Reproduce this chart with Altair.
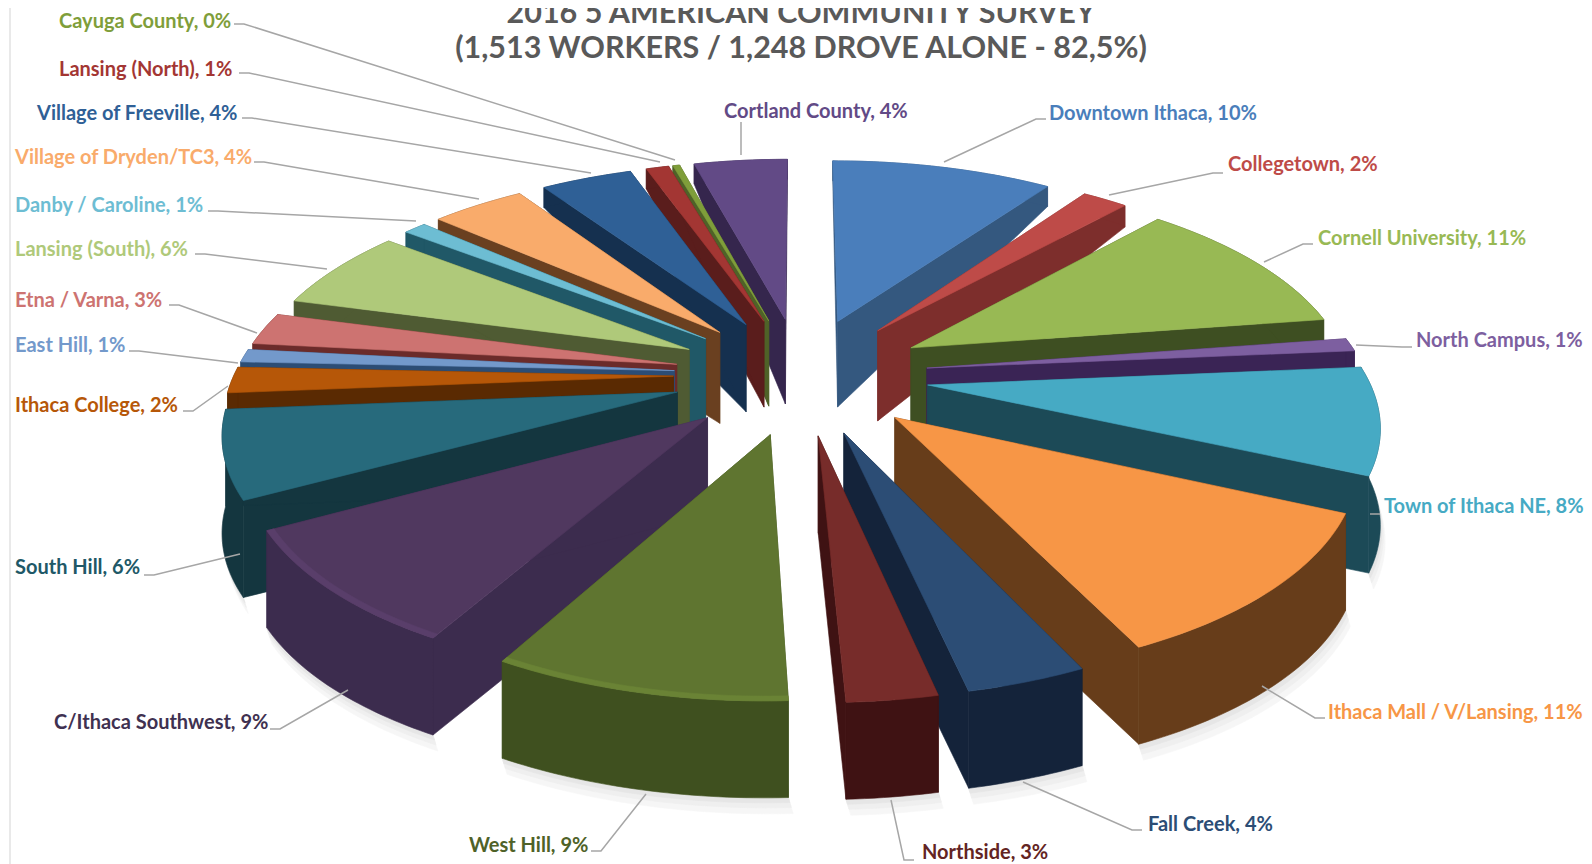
import math
import altair as alt
import pandas as pd

names = ["Downtown Ithaca","Collegetown","Cornell University","North Campus","Town of Ithaca NE",
         "Ithaca Mall / V/Lansing","Fall Creek","Northside","West Hill","C/Ithaca Southwest","South Hill",
         "Ithaca College","East Hill","Etna / Varna","Lansing (South)","Danby / Caroline",
         "Village of Dryden/TC3","Village of Freeville","Lansing (North)","Cayuga County","Cortland County"]
shown = [10,2,11,1,8,11,4,3,9,9,6,2,1,3,6,1,4,4,1,0,4]
values = [9.7,2.0,10.9,1.0,8.2,11.2,3.6,2.7,8.8,8.9,6.7,2.0,1.0,2.5,6.3,1.0,4.1,4.0,1.0,0.3,4.1]
colors = ["#4a7ebb","#be4b48","#98b954","#7d5fa0","#46aac4","#f79646","#2c4d75","#772c2a","#5f7530","#50385f",
          "#276a7c","#b65708","#7399cb","#cd7371","#afc97a","#6dbdd3","#f9ab6b","#2f6096","#a33633","#7f9e3a","#624a86"]
side_colors = ["#34587f","#7d2e2c","#3e4f22","#3a2455","#1c4a57","#673d1a","#14233a","#3f1213","#3f501f","#3c2c4e",
               "#14363f","#5a2a02","#2c4d75","#6b2b2a","#4f5b33","#205867","#6a4020","#15304f","#5a1d1c","#4f6228","#35264d"]
text_colors = ["#4a7ebb","#be4b48","#98b954","#7d5fa0","#46aac4","#f79646","#2c4d75","#632423","#4f6228","#3f3151",
               "#205867","#b65708","#7399cb","#cd7371","#afc97a","#6dbdd3","#f9ab6b","#2f6096","#a33633","#7f9e3a","#624a86"]
# label layout: left x, centre y, leader start, leader end (full-size pixels)
label_x = [1049,1228,1318,1416,1384,1328,1148,922,469,54,15,15,15,15,15,15,15,37,59,59,724]
label_y = [114,165,239,341,507,713,825,853,846,723,568,406,346,301,250,206,158,114,70,22,112]
lead_a = [(1046,119),(1223,173),(1313,244),(1412,347),(1380,514),(1325,718),(1142,830),(914,860),(591,851),(270,729),
          (144,575),(183,411),(129,351),(169,305),(195,254),(208,211),(254,162),(242,118),(239,73),(234,24)]
lead_b = [(944,162),(1109,195),(1264,262),(1356,345),(1371,514),(1262,686),(1023,782),(891,800),(646,794),(348,690),
          (240,554),(228,386),(238,363),(257,333),(327,269),(416,221),(479,199),(591,173),(660,162),(675,160)]
cortland_lead = [(741,122),(741,155)]
title_lines = ["2016 5 AMERICAN COMMUNITY SURVEY","(1,513 WORKERS / 1,248 DROVE ALONE - 82,5%)"]

CX, CY, K, A, B, EX = 801, 375, 439.5, 202, 0.16, 0.29

def lighten(hex_color, f):
    r,g,b = [int(hex_color[i:i+2],16) for i in (1,3,5)]
    return "#%02x%02x%02x" % (min(255,int(r*f)),min(255,int(g*f)),min(255,int(b*f)))

def proj(x, y):
    d = 1 + B*y
    return CX + K*x/d, CY - A*y/d

def wall(y):
    return max(20, min(97, 88 - 74*(y-0.25)/0.8))

def poly(points, fill):
    ring = [[float(p[0]), float(p[1])] for p in points]
    ring.append(ring[0])
    return {"type":"Feature","properties":{"c":fill},"geometry":{"type":"Polygon","coordinates":[ring]}}

slices = []
start = 0.0
for i, v in enumerate(values):
    a0 = start/100*2*math.pi
    a1 = (start+v)/100*2*math.pi
    mid = (a0+a1)/2
    ox, oy = EX*math.sin(mid), EX*math.cos(mid)
    n = max(3, int(v*4))
    angles = [a0+(a1-a0)*k/n for k in range(n+1)]
    slices.append((oy, i, (ox, oy), angles))
    start += v
slices.sort(key=lambda s: -s[0])

features = []
# soft ground shadow under the near slices
for off, grey in ((16,"#f6f6f6"),(10,"#efefef"),(5,"#e6e6e6")):
    for oy, i, apex, angles in slices:
        if oy < 0.1:
            world = [(apex[0]+math.sin(a), apex[1]+math.cos(a)) for a in angles]
            low = [(proj(*p)[0], proj(*p)[1]+wall(p[1])) for p in world]
            features.append(poly(low+[(x+off*0.3, y+off) for x,y in low[::-1]], grey))

for oy, i, apex, angles in slices:
    col, side = colors[i], side_colors[i]
    world = [(apex[0]+math.sin(a), apex[1]+math.cos(a)) for a in angles]
    top = [proj(*p) for p in world]
    low = [(proj(*p)[0], proj(*p)[1]+wall(p[1])) for p in world]
    tc = proj(*apex)
    lc = (tc[0], tc[1]+wall(apex[1]))
    features.append(poly([tc, top[0], low[0], lc], side))
    features.append(poly([tc, top[-1], low[-1], lc], side))
    features.append(poly(top+low[::-1], side))
    features.append(poly([tc]+top, col))
    if names[i] in ("West Hill", "C/Ithaca Southwest"):
        inner = [proj(apex[0]+0.985*math.sin(a), apex[1]+0.985*math.cos(a)) for a in angles]
        features.append(poly(top+inner[::-1], lighten(col, 1.12)))

pie = alt.Chart(alt.InlineData(values=features, format=alt.DataFormat(type="json"))).mark_geoshape(strokeWidth=0.6).encode(
    fill=alt.Fill("properties.c:N", scale=None),
    stroke=alt.Stroke("properties.c:N", scale=None),
).project(type="identity", scale=1, translate=[-8,-8], reflectY=False)

xs = alt.X("x:Q", scale=alt.Scale(domain=[8,1584]), axis=None)
ys = alt.Y("y:Q", scale=alt.Scale(domain=[864,8]), axis=None)

rows = []
for i in range(20):
    a, b = lead_a[i], lead_b[i]
    elbow = (a[0] + (-10 if i < 8 else 10), a[1])
    for j, p in enumerate([a, elbow, b]):
        rows.append({"id":i,"o":j,"x":p[0],"y":p[1]})
for j, p in enumerate(cortland_lead):
    rows.append({"id":20,"o":j,"x":p[0],"y":p[1]})
leaders = alt.Chart(pd.DataFrame(rows)).mark_line(color="#a6a6a6", strokeWidth=1.5).encode(
    x=xs, y=ys, detail="id:N", order="o:Q")

labels = pd.DataFrame({"x":label_x,"y":label_y,"t":[f"{n}, {s}%" for n,s in zip(names,shown)],"c":text_colors})
label_layer = alt.Chart(labels).mark_text(font="Lato", fontWeight="bold", fontSize=20, align="left", baseline="middle").encode(
    x=xs, y=ys, text="t:N", color=alt.Color("c:N", scale=None))

titles = pd.DataFrame({"x":[801,801],"y":[14,49],"t":title_lines})
title_layer = alt.Chart(titles).mark_text(font="Lato", fontWeight="bold", fontSize=30.5, color="#595959", align="center", baseline="middle").encode(
    x=xs, y=ys, text="t:N")

edge = alt.Chart(pd.DataFrame({"x":[10],"y":[8],"y2":[864]})).mark_rule(color="#e2e2e2", strokeWidth=1.5).encode(x=xs, y=ys, y2="y2:Q")

chart = alt.layer(edge, pie, leaders, label_layer, title_layer).properties(
    width=1576, height=856, padding=0, autosize=alt.AutoSizeParams(type="none"), background="white"
).configure_view(stroke=None)
chart.save("out.html", embed_options={"renderer": "svg", "actions": False})
